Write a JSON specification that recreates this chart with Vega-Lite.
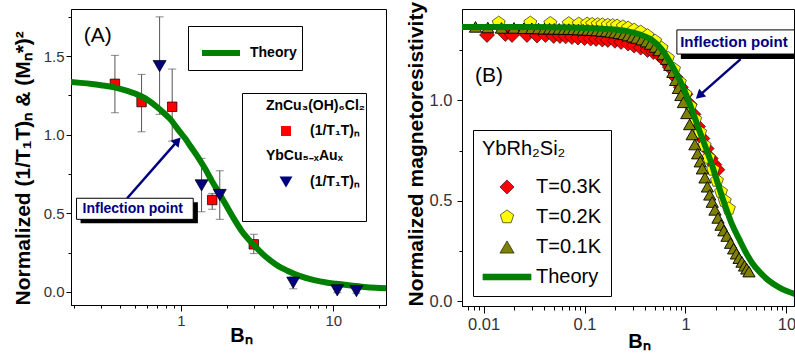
{
  "$schema": "https://vega.github.io/schema/vega-lite/v6.json",
  "background": "white",
  "padding": {"left": 11, "top": 0, "right": 0, "bottom": 0},
  "bounds": "flush",
  "spacing": 76,
  "resolve": {"scale": {"fill": "independent", "shape": "independent", "stroke": "independent", "x": "independent", "y": "independent"}, "legend": {"fill": "independent", "shape": "independent", "stroke": "independent"}},
  "config": {
    "font": "Liberation Sans",
    "view": {"stroke": "black", "strokeWidth": 1},
    "axis": {"domainColor": "black", "tickColor": "black", "labelColor": "#333333", "titleColor": "black", "grid": false, "labelFont": "Liberation Sans", "titleFont": "Liberation Sans", "titleFontWeight": "bold", "labelOverlap": false, "labelFlush": false},
    "legend": {"labelFont": "Liberation Sans", "titleFont": "Liberation Sans", "labelColor": "black", "titleColor": "black", "cornerRadius": 0}
  },
  "datasets": {
    "leftPts": [
      {"B": 0.369, "v": 1.324, "lo": 1.14, "hi": 1.505, "s": "zn"},
      {"B": 0.552, "v": 1.208, "lo": 1.019, "hi": 1.384, "s": "zn"},
      {"B": 0.877, "v": 1.178, "lo": 0.96, "hi": 1.418, "s": "zn"},
      {"B": 1.606, "v": 0.585, "lo": 0.526, "hi": 0.627, "s": "zn"},
      {"B": 3.01, "v": 0.303, "lo": 0.244, "hi": 0.367, "s": "zn"},
      {"B": 0.725, "v": 1.437, "lo": 1.13, "hi": 1.75, "s": "yb"},
      {"B": 1.367, "v": 0.678, "lo": 0.51, "hi": 0.85, "s": "yb"},
      {"B": 1.8, "v": 0.617, "lo": 0.462, "hi": 0.771, "s": "yb"},
      {"B": 5.46, "v": 0.059, "lo": 0.02, "hi": 0.095, "s": "yb"},
      {"B": 10.63, "v": 0.01, "lo": -0.005, "hi": 0.045, "s": "yb"},
      {"B": 14.2, "v": 0.005, "lo": -0.008, "hi": 0.04, "s": "yb"}
    ],
    "leftCurve": [
      {"B": 0.19, "v": 1.335}, {"B": 0.22, "v": 1.33}, {"B": 0.26, "v": 1.323}, {"B": 0.3, "v": 1.315},
      {"B": 0.35, "v": 1.305}, {"B": 0.4, "v": 1.292}, {"B": 0.45, "v": 1.278}, {"B": 0.5, "v": 1.262},
      {"B": 0.55, "v": 1.245}, {"B": 0.62, "v": 1.215}, {"B": 0.7, "v": 1.175}, {"B": 0.78, "v": 1.135},
      {"B": 0.86, "v": 1.095}, {"B": 0.93, "v": 1.05}, {"B": 1.0, "v": 1.01}, {"B": 1.08, "v": 0.97},
      {"B": 1.15, "v": 0.93}, {"B": 1.3, "v": 0.855}, {"B": 1.45, "v": 0.78}, {"B": 1.6, "v": 0.705},
      {"B": 1.78, "v": 0.63}, {"B": 2.0, "v": 0.545}, {"B": 2.2, "v": 0.475}, {"B": 2.5, "v": 0.39},
      {"B": 2.75, "v": 0.34}, {"B": 3.0, "v": 0.3}, {"B": 3.5, "v": 0.235}, {"B": 4.2, "v": 0.175},
      {"B": 5.0, "v": 0.135}, {"B": 6.0, "v": 0.102}, {"B": 7.5, "v": 0.075}, {"B": 9.0, "v": 0.06},
      {"B": 10.5, "v": 0.052}, {"B": 13, "v": 0.041}, {"B": 16, "v": 0.032}, {"B": 19, "v": 0.027},
      {"B": 22.2, "v": 0.024}
    ],
    "rightCurve": [
      {"B": 0.0061, "v": 1.365}, {"B": 0.01, "v": 1.365}, {"B": 0.03, "v": 1.364}, {"B": 0.1, "v": 1.36},
      {"B": 0.18, "v": 1.353}, {"B": 0.255, "v": 1.345}, {"B": 0.35, "v": 1.328}, {"B": 0.464, "v": 1.3},
      {"B": 0.57, "v": 1.258}, {"B": 0.684, "v": 1.2}, {"B": 0.8, "v": 1.14}, {"B": 0.927, "v": 1.075},
      {"B": 1.05, "v": 1.01}, {"B": 1.165, "v": 0.95}, {"B": 1.36, "v": 0.855}, {"B": 1.6, "v": 0.76},
      {"B": 1.84, "v": 0.675}, {"B": 2.05, "v": 0.6}, {"B": 2.31, "v": 0.52}, {"B": 2.6, "v": 0.445},
      {"B": 2.91, "v": 0.38}, {"B": 3.4, "v": 0.31}, {"B": 3.95, "v": 0.245}, {"B": 4.6, "v": 0.19},
      {"B": 5.35, "v": 0.15}, {"B": 6.5, "v": 0.108}, {"B": 8.45, "v": 0.07}, {"B": 10.2, "v": 0.05},
      {"B": 11.9, "v": 0.038}
    ],
    "rightPts": [
      {"B": 0.0108, "v": 1.325, "T": "T=0.3K"}, {"B": 0.0164, "v": 1.33, "T": "T=0.3K"}, {"B": 0.0191, "v": 1.325, "T": "T=0.3K"},
      {"B": 0.0269, "v": 1.325, "T": "T=0.3K"}, {"B": 0.0338, "v": 1.322, "T": "T=0.3K"}, {"B": 0.041, "v": 1.325, "T": "T=0.3K"},
      {"B": 0.0494, "v": 1.32, "T": "T=0.3K"}, {"B": 0.057, "v": 1.32, "T": "T=0.3K"}, {"B": 0.065, "v": 1.318, "T": "T=0.3K"},
      {"B": 0.075, "v": 1.315, "T": "T=0.3K"}, {"B": 0.086, "v": 1.312, "T": "T=0.3K"}, {"B": 0.1, "v": 1.31, "T": "T=0.3K"},
      {"B": 0.115, "v": 1.307, "T": "T=0.3K"}, {"B": 0.13, "v": 1.305, "T": "T=0.3K"}, {"B": 0.15, "v": 1.302, "T": "T=0.3K"},
      {"B": 0.17, "v": 1.3, "T": "T=0.3K"}, {"B": 0.2, "v": 1.296, "T": "T=0.3K"}, {"B": 0.23, "v": 1.29, "T": "T=0.3K"},
      {"B": 0.27, "v": 1.282, "T": "T=0.3K"}, {"B": 0.31, "v": 1.272, "T": "T=0.3K"}, {"B": 0.36, "v": 1.262, "T": "T=0.3K"},
      {"B": 0.42, "v": 1.25, "T": "T=0.3K"}, {"B": 0.48, "v": 1.24, "T": "T=0.3K"}, {"B": 0.55, "v": 1.225, "T": "T=0.3K"},
      {"B": 0.62, "v": 1.2, "T": "T=0.3K"}, {"B": 0.7, "v": 1.165, "T": "T=0.3K"}, {"B": 0.8, "v": 1.115, "T": "T=0.3K"},
      {"B": 0.9, "v": 1.065, "T": "T=0.3K"}, {"B": 1.0, "v": 1.03, "T": "T=0.3K"}, {"B": 1.1, "v": 0.98, "T": "T=0.3K"},
      {"B": 1.2, "v": 0.93, "T": "T=0.3K"}, {"B": 1.33, "v": 0.87, "T": "T=0.3K"}, {"B": 1.47, "v": 0.81, "T": "T=0.3K"},
      {"B": 1.62, "v": 0.76, "T": "T=0.3K"}, {"B": 1.78, "v": 0.71, "T": "T=0.3K"}, {"B": 1.93, "v": 0.68, "T": "T=0.3K"},
      {"B": 2.07, "v": 0.655, "T": "T=0.3K"},
      {"B": 0.0141, "v": 1.385, "T": "T=0.2K"}, {"B": 0.029, "v": 1.385, "T": "T=0.2K"}, {"B": 0.0458, "v": 1.383, "T": "T=0.2K"},
      {"B": 0.0697, "v": 1.382, "T": "T=0.2K"}, {"B": 0.0876, "v": 1.38, "T": "T=0.2K"}, {"B": 0.106, "v": 1.38, "T": "T=0.2K"},
      {"B": 0.119, "v": 1.378, "T": "T=0.2K"}, {"B": 0.135, "v": 1.377, "T": "T=0.2K"}, {"B": 0.15, "v": 1.376, "T": "T=0.2K"},
      {"B": 0.17, "v": 1.374, "T": "T=0.2K"}, {"B": 0.19, "v": 1.372, "T": "T=0.2K"}, {"B": 0.21, "v": 1.37, "T": "T=0.2K"},
      {"B": 0.24, "v": 1.366, "T": "T=0.2K"}, {"B": 0.27, "v": 1.36, "T": "T=0.2K"}, {"B": 0.31, "v": 1.35, "T": "T=0.2K"},
      {"B": 0.36, "v": 1.34, "T": "T=0.2K"}, {"B": 0.42, "v": 1.322, "T": "T=0.2K"}, {"B": 0.5, "v": 1.295, "T": "T=0.2K"},
      {"B": 0.58, "v": 1.26, "T": "T=0.2K"}, {"B": 0.67, "v": 1.21, "T": "T=0.2K"}, {"B": 0.77, "v": 1.155, "T": "T=0.2K"},
      {"B": 0.88, "v": 1.09, "T": "T=0.2K"}, {"B": 1.0, "v": 1.03, "T": "T=0.2K"}, {"B": 1.12, "v": 0.97, "T": "T=0.2K"},
      {"B": 1.25, "v": 0.905, "T": "T=0.2K"}, {"B": 1.4, "v": 0.84, "T": "T=0.2K"}, {"B": 1.55, "v": 0.775, "T": "T=0.2K"},
      {"B": 1.7, "v": 0.715, "T": "T=0.2K"}, {"B": 1.88, "v": 0.655, "T": "T=0.2K"}, {"B": 2.05, "v": 0.6, "T": "T=0.2K"},
      {"B": 2.25, "v": 0.545, "T": "T=0.2K"}, {"B": 2.45, "v": 0.5, "T": "T=0.2K"}, {"B": 2.69, "v": 0.461, "T": "T=0.2K"},
      {"B": 0.0083, "v": 1.365, "T": "T=0.1K"}, {"B": 0.011, "v": 1.362, "T": "T=0.1K"}, {"B": 0.015, "v": 1.36, "T": "T=0.1K"},
      {"B": 0.02, "v": 1.36, "T": "T=0.1K"}, {"B": 0.025, "v": 1.358, "T": "T=0.1K"}, {"B": 0.03, "v": 1.358, "T": "T=0.1K"},
      {"B": 0.035, "v": 1.357, "T": "T=0.1K"}, {"B": 0.04, "v": 1.356, "T": "T=0.1K"}, {"B": 0.045, "v": 1.356, "T": "T=0.1K"},
      {"B": 0.05, "v": 1.355, "T": "T=0.1K"}, {"B": 0.056, "v": 1.355, "T": "T=0.1K"}, {"B": 0.063, "v": 1.354, "T": "T=0.1K"},
      {"B": 0.07, "v": 1.354, "T": "T=0.1K"}, {"B": 0.078, "v": 1.353, "T": "T=0.1K"}, {"B": 0.087, "v": 1.352, "T": "T=0.1K"},
      {"B": 0.097, "v": 1.351, "T": "T=0.1K"}, {"B": 0.108, "v": 1.35, "T": "T=0.1K"}, {"B": 0.12, "v": 1.349, "T": "T=0.1K"},
      {"B": 0.133, "v": 1.347, "T": "T=0.1K"}, {"B": 0.148, "v": 1.345, "T": "T=0.1K"}, {"B": 0.165, "v": 1.343, "T": "T=0.1K"},
      {"B": 0.183, "v": 1.34, "T": "T=0.1K"}, {"B": 0.2, "v": 1.337, "T": "T=0.1K"}, {"B": 0.22, "v": 1.333, "T": "T=0.1K"},
      {"B": 0.245, "v": 1.328, "T": "T=0.1K"}, {"B": 0.27, "v": 1.322, "T": "T=0.1K"}, {"B": 0.3, "v": 1.316, "T": "T=0.1K"},
      {"B": 0.33, "v": 1.31, "T": "T=0.1K"}, {"B": 0.37, "v": 1.302, "T": "T=0.1K"}, {"B": 0.41, "v": 1.292, "T": "T=0.1K"},
      {"B": 0.45, "v": 1.28, "T": "T=0.1K"}, {"B": 0.5, "v": 1.265, "T": "T=0.1K"}, {"B": 0.55, "v": 1.248, "T": "T=0.1K"},
      {"B": 0.6, "v": 1.228, "T": "T=0.1K"}, {"B": 0.65, "v": 1.205, "T": "T=0.1K"}, {"B": 0.7, "v": 1.175, "T": "T=0.1K"},
      {"B": 0.75, "v": 1.14, "T": "T=0.1K"}, {"B": 0.8, "v": 1.1, "T": "T=0.1K"}, {"B": 0.85, "v": 1.06, "T": "T=0.1K"},
      {"B": 0.9, "v": 1.025, "T": "T=0.1K"}, {"B": 0.955, "v": 0.99, "T": "T=0.1K"}, {"B": 1.03, "v": 0.935, "T": "T=0.1K"},
      {"B": 1.1, "v": 0.88, "T": "T=0.1K"}, {"B": 1.165, "v": 0.83, "T": "T=0.1K"}, {"B": 1.24, "v": 0.78, "T": "T=0.1K"},
      {"B": 1.32, "v": 0.735, "T": "T=0.1K"}, {"B": 1.4, "v": 0.695, "T": "T=0.1K"}, {"B": 1.47, "v": 0.66, "T": "T=0.1K"},
      {"B": 1.56, "v": 0.615, "T": "T=0.1K"}, {"B": 1.65, "v": 0.57, "T": "T=0.1K"}, {"B": 1.74, "v": 0.53, "T": "T=0.1K"},
      {"B": 1.84, "v": 0.494, "T": "T=0.1K"}, {"B": 1.96, "v": 0.455, "T": "T=0.1K"}, {"B": 2.1, "v": 0.415, "T": "T=0.1K"},
      {"B": 2.25, "v": 0.38, "T": "T=0.1K"}, {"B": 2.4, "v": 0.352, "T": "T=0.1K"}, {"B": 2.58, "v": 0.325, "T": "T=0.1K"},
      {"B": 2.8, "v": 0.29, "T": "T=0.1K"}, {"B": 3.0, "v": 0.262, "T": "T=0.1K"}, {"B": 3.2, "v": 0.237, "T": "T=0.1K"},
      {"B": 3.4, "v": 0.215, "T": "T=0.1K"}, {"B": 3.63, "v": 0.196, "T": "T=0.1K"}, {"B": 3.85, "v": 0.177, "T": "T=0.1K"},
      {"B": 4.05, "v": 0.162, "T": "T=0.1K"}, {"B": 4.26, "v": 0.148, "T": "T=0.1K"}
    ]
  },
  "hconcat": [
    {
      "width": 315,
      "height": 296,
      "layer": [
        {
          "data": {"name": "leftPts"},
          "mark": {"type": "rule", "color": "#555555", "strokeWidth": 1},
          "encoding": {
            "x": {"field": "B", "type": "quantitative", "scale": {"type": "log", "domain": [0.19, 22.2], "nice": false},
              "axis": {"title": "Bₙ", "titleFontSize": 20, "titleX": 170, "titleY": 36, "titleBaseline": "alphabetic",
                "values": [0.2, 0.3, 0.4, 0.5, 0.6, 0.7, 0.8, 0.9, 1, 2, 3, 4, 5, 6, 7, 8, 9, 10, 20],
                "format": "~g", "labelExpr": "(datum.value == 1 || datum.value == 10) ? datum.label : ''",
                "labelFontSize": 15, "labelPadding": 2,
                "tickSize": {"condition": {"test": "datum.value == 1 || datum.value == 10", "value": 6}, "value": 3}}},
            "y": {"field": "lo", "type": "quantitative", "scale": {"domain": [-0.083, 1.8], "nice": false, "zero": false},
              "axis": {"title": "Normalized (1/T₁T)ₙ & (Mₙ*)²", "titleFontSize": 21, "titleAnchor": "start", "titlePadding": 10,
                "values": [0, 0.25, 0.5, 0.75, 1, 1.25, 1.5, 1.75],
                "labelExpr": "datum.value % 0.5 == 0 ? format(datum.value, '.1f') : ''",
                "labelFontSize": 15, "labelPadding": 2,
                "tickSize": {"condition": {"test": "datum.value % 0.5 == 0", "value": 5}, "value": 3}}},
            "y2": {"field": "hi"}
          }
        },
        {
          "data": {"name": "leftPts"},
          "mark": {"type": "tick", "orient": "horizontal", "size": 8, "thickness": 1, "color": "#555555"},
          "encoding": {
            "x": {"field": "B", "type": "quantitative"},
            "y": {"field": "lo", "type": "quantitative"}
          }
        },
        {
          "data": {"name": "leftPts"},
          "mark": {"type": "tick", "orient": "horizontal", "size": 8, "thickness": 1, "color": "#555555"},
          "encoding": {
            "x": {"field": "B", "type": "quantitative"},
            "y": {"field": "hi", "type": "quantitative"}
          }
        },
        {
          "data": {"name": "leftPts"},
          "transform": [{"filter": "datum.s == 'zn'"}],
          "mark": {"type": "point", "filled": true, "stroke": "black", "strokeWidth": 0.7, "size": 90, "opacity": 1},
          "encoding": {
            "x": {"field": "B", "type": "quantitative"},
            "y": {"field": "v", "type": "quantitative"},
            "fill": {"field": "s", "type": "nominal",
              "scale": {"domain": ["g1", "zn", "g2", "yb", "z"], "range": ["white", "#ff0000", "white", "#000080", "white"]},
              "legend": {"title": null, "orient": "none", "legendX": 171, "legendY": 84, "strokeColor": "black", "padding": 6,
                "symbolOffset": 31, "labelOffset": 17, "rowPadding": 11, "labelFontWeight": "bold", "labelFontSize": 14, "symbolSize": 100,
                "symbolStrokeColor": "black", "symbolStrokeWidth": 0.8,
                "labelExpr": "(datum.value == 'zn' || datum.value == 'yb') ? '(1/T₁T)ₙ' : (datum.value == 'z' ? '' : '                 ')"}},
            "shape": {"field": "s", "type": "nominal",
              "scale": {"domain": ["g1", "zn", "g2", "yb", "z"], "range": ["M0,0", "square", "M0,0", "M-1.3,-1.12L1.3,-1.12L0,1.12Z", "M0,0"]},
              "legend": {"title": null, "orient": "none", "legendX": 171, "legendY": 84, "strokeColor": "black", "padding": 6,
                "symbolOffset": 31, "labelOffset": 17, "rowPadding": 11, "labelFontWeight": "bold", "labelFontSize": 14, "symbolSize": 100,
                "symbolStrokeColor": "black", "symbolStrokeWidth": 0.8,
                "labelExpr": "(datum.value == 'zn' || datum.value == 'yb') ? '(1/T₁T)ₙ' : (datum.value == 'z' ? '' : '                 ')"}}
          }
        },
        {
          "data": {"name": "leftCurve"},
          "mark": {"type": "line", "strokeWidth": 6, "interpolate": "monotone", "clip": true, "strokeCap": "round"},
          "encoding": {
            "x": {"field": "B", "type": "quantitative"},
            "y": {"field": "v", "type": "quantitative"},
            "stroke": {"datum": "Theory", "type": "nominal", "scale": {"domain": ["Theory"], "range": ["#008000"]},
              "legend": {"title": null, "orient": "none", "legendX": 117, "legendY": 17, "strokeColor": "black", "fillColor": "white", "padding": 5,
                "symbolOffset": 6, "labelOffset": 7, "symbolSize": 1444, "symbolStrokeWidth": 6, "symbolType": "stroke",
                "labelFontWeight": "bold", "labelFontSize": 14}}
          }
        },
        {
          "data": {"name": "leftPts"},
          "transform": [{"filter": "datum.s == 'yb'"}],
          "mark": {"type": "point", "filled": true, "stroke": "black", "strokeWidth": 0.7, "size": 100, "opacity": 1},
          "encoding": {
            "x": {"field": "B", "type": "quantitative"},
            "y": {"field": "v", "type": "quantitative"},
            "fill": {"field": "s", "type": "nominal"},
            "shape": {"field": "s", "type": "nominal"}
          }
        },
        {
          "data": {"values": [{"B": 3.614, "v": 1.182, "t": "ZnCu₃(OH)₆Cl₂"}, {"B": 3.614, "v": 0.865, "t": "YbCu₅₋ₓAuₓ"}]},
          "mark": {"type": "text", "align": "left", "baseline": "middle", "fontSize": 14, "fontWeight": "bold", "color": "black"},
          "encoding": {
            "x": {"field": "B", "type": "quantitative"},
            "y": {"field": "v", "type": "quantitative"},
            "text": {"field": "t"}
          }
        },
        {
          "data": {"values": [{"B": 0.2195, "B2": 1.293, "v": 0.57, "v2": 0.437}]},
          "mark": {"type": "rect", "fill": "black"},
          "encoding": {
            "x": {"field": "B", "type": "quantitative"}, "x2": {"field": "B2"},
            "y": {"field": "v", "type": "quantitative"}, "y2": {"field": "v2"}
          }
        },
        {
          "data": {"values": [{"B": 0.444, "v": 0.596, "B2": 0.951, "v2": 0.961}]},
          "mark": {"type": "rule", "color": "#000080", "strokeWidth": 2.5},
          "encoding": {
            "x": {"field": "B", "type": "quantitative"}, "x2": {"field": "B2"},
            "y": {"field": "v", "type": "quantitative"}, "y2": {"field": "v2"}
          }
        },
        {
          "data": {"values": [{"B": 0.2066, "B2": 1.205, "v": 0.596, "v2": 0.462}]},
          "mark": {"type": "rect", "fill": "white", "stroke": "black", "strokeWidth": 1},
          "encoding": {
            "x": {"field": "B", "type": "quantitative"}, "x2": {"field": "B2"},
            "y": {"field": "v", "type": "quantitative"}, "y2": {"field": "v2"}
          }
        },
        {
          "data": {"values": [{"B": 0.951, "v": 0.961}]},
          "mark": {"type": "point", "shape": "triangle-up", "angle": 41, "size": 110, "filled": true, "fill": "#000080", "strokeWidth": 0, "opacity": 1},
          "encoding": {
            "x": {"field": "B", "type": "quantitative"},
            "y": {"field": "v", "type": "quantitative"}
          }
        },
        {
          "data": {"values": [{"B": 0.4827, "v": 0.526, "t": "Inflection point"}]},
          "mark": {"type": "text", "align": "center", "baseline": "middle", "fontSize": 14, "fontWeight": "bold", "color": "#000080"},
          "encoding": {
            "x": {"field": "B", "type": "quantitative"},
            "y": {"field": "v", "type": "quantitative"},
            "text": {"field": "t"}
          }
        },
        {
          "data": {"values": [{"B": 0.285, "v": 1.627, "t": "(A)"}]},
          "mark": {"type": "text", "align": "center", "baseline": "middle", "fontSize": 21, "fontWeight": "normal", "color": "black"},
          "encoding": {
            "x": {"field": "B", "type": "quantitative"},
            "y": {"field": "v", "type": "quantitative"},
            "text": {"field": "t"}
          }
        }
      ]
    },
    {
      "width": 332,
      "height": 297,
      "layer": [
        {
          "data": {"name": "rightPts"},
          "transform": [{"filter": "datum.T == 'T=0.3K'"}],
          "mark": {"type": "point", "filled": true, "strokeWidth": 0.6, "size": 225, "opacity": 1},
          "encoding": {
            "x": {"field": "B", "type": "quantitative", "scale": {"type": "log", "domain": [0.0061, 11.9], "nice": false},
              "axis": {"title": "Bₙ", "titleFontSize": 20, "titleX": 177, "titleY": 41, "titleBaseline": "alphabetic",
                "values": [0.007, 0.008, 0.009, 0.01, 0.02, 0.03, 0.04, 0.05, 0.06, 0.07, 0.08, 0.09, 0.1, 0.2, 0.3, 0.4, 0.5, 0.6, 0.7, 0.8, 0.9, 1, 2, 3, 4, 5, 6, 7, 8, 9, 10],
                "format": "~g", "labelExpr": "(datum.value == 0.01 || datum.value == 0.1 || datum.value == 1 || datum.value == 10) ? datum.label : ''",
                "labelFontSize": 16.5, "labelPadding": 3,
                "tickSize": {"condition": {"test": "datum.value == 0.01 || datum.value == 0.1 || datum.value == 1 || datum.value == 10", "value": 7}, "value": 4}}},
            "y": {"field": "v", "type": "quantitative", "scale": {"domain": [-0.023, 1.454], "nice": false, "zero": false},
              "axis": {"title": "Normalized magnetoresistivity", "titleFontSize": 21, "titleAnchor": "start", "titlePadding": 3,
                "values": [0, 0.25, 0.5, 0.75, 1, 1.25],
                "labelExpr": "datum.value % 0.5 == 0 ? format(datum.value, '.1f') : ''",
                "labelFontSize": 16.5, "labelPadding": 5,
                "tickSize": {"condition": {"test": "datum.value % 0.5 == 0", "value": 5}, "value": 3}}},
            "fill": {"field": "T", "type": "nominal",
              "scale": {"domain": ["T=0.3K", "T=0.2K", "T=0.1K", "Theory"], "range": ["#ff0000", "#ffff00", "#808000", "#008000"]},
              "legend": {"title": "YbRh₂Si₂", "orient": "none", "legendX": 11, "legendY": 121, "strokeColor": "black", "fillColor": "white", "padding": 9,
                "titleFontSize": 20, "titleFontWeight": "normal", "titlePadding": 18, "labelFontSize": 20, "symbolOffset": 15, "labelOffset": 19,
                "rowPadding": 10, "symbolSize": 200, "symbolStrokeWidth": 0.6}},
            "shape": {"field": "T", "type": "nominal",
              "scale": {"domain": ["T=0.3K", "T=0.2K", "T=0.1K", "Theory"], "range": ["diamond", "M0,-1L0.951,-0.309L0.588,0.809L-0.588,0.809L-0.951,-0.309Z", "triangle-up", "M-3.4,-0.42H3.4V0.42H-3.4Z"]},
              "legend": {"title": "YbRh₂Si₂", "orient": "none", "legendX": 11, "legendY": 121, "strokeColor": "black", "fillColor": "white", "padding": 9,
                "titleFontSize": 20, "titleFontWeight": "normal", "titlePadding": 18, "labelFontSize": 20, "symbolOffset": 15, "labelOffset": 19,
                "rowPadding": 10, "symbolSize": 200, "symbolStrokeWidth": 0.6}},
            "stroke": {"field": "T", "type": "nominal",
              "scale": {"domain": ["T=0.3K", "T=0.2K", "T=0.1K", "Theory"], "range": ["#000000", "#000000", "#000000", "#008000"]},
              "legend": {"title": "YbRh₂Si₂", "orient": "none", "legendX": 11, "legendY": 121, "strokeColor": "black", "fillColor": "white", "padding": 9,
                "titleFontSize": 20, "titleFontWeight": "normal", "titlePadding": 18, "labelFontSize": 20, "symbolOffset": 15, "labelOffset": 19,
                "rowPadding": 10, "symbolSize": 200, "symbolStrokeWidth": 0.6}}
          }
        },
        {
          "data": {"name": "rightPts"},
          "transform": [{"filter": "datum.T == 'T=0.2K'"}],
          "mark": {"type": "point", "filled": true, "strokeWidth": 0.6, "size": 185, "opacity": 1},
          "encoding": {
            "x": {"field": "B", "type": "quantitative"},
            "y": {"field": "v", "type": "quantitative"},
            "fill": {"field": "T", "type": "nominal"},
            "shape": {"field": "T", "type": "nominal"},
            "stroke": {"field": "T", "type": "nominal"}
          }
        },
        {
          "data": {"name": "rightPts"},
          "transform": [{"filter": "datum.T == 'T=0.1K'"}],
          "mark": {"type": "point", "filled": true, "strokeWidth": 0.9, "size": 150, "opacity": 1},
          "encoding": {
            "x": {"field": "B", "type": "quantitative"},
            "y": {"field": "v", "type": "quantitative"},
            "fill": {"field": "T", "type": "nominal"},
            "shape": {"field": "T", "type": "nominal"},
            "stroke": {"field": "T", "type": "nominal"}
          }
        },
        {
          "data": {"name": "rightCurve"},
          "mark": {"type": "line", "strokeWidth": 6, "interpolate": "monotone", "clip": true, "stroke": "#008000", "strokeCap": "round"},
          "encoding": {
            "x": {"field": "B", "type": "quantitative"},
            "y": {"field": "v", "type": "quantitative"}
          }
        },
        {
          "data": {"values": [{"B": 0.9, "B2": 20, "v": 1.33, "v2": 1.205}]},
          "mark": {"type": "rect", "fill": "black", "clip": true},
          "encoding": {
            "x": {"field": "B", "type": "quantitative"}, "x2": {"field": "B2"},
            "y": {"field": "v", "type": "quantitative"}, "y2": {"field": "v2"}
          }
        },
        {
          "data": {"values": [{"B": 0.822, "B2": 20, "v": 1.35, "v2": 1.23}]},
          "mark": {"type": "rect", "fill": "white", "stroke": "black", "strokeWidth": 1, "clip": true},
          "encoding": {
            "x": {"field": "B", "type": "quantitative"}, "x2": {"field": "B2"},
            "y": {"field": "v", "type": "quantitative"}, "y2": {"field": "v2"}
          }
        },
        {
          "data": {"values": [{"B": 3.52, "v": 1.205, "B2": 1.37, "v2": 1.023}]},
          "mark": {"type": "rule", "color": "#000080", "strokeWidth": 2.5},
          "encoding": {
            "x": {"field": "B", "type": "quantitative"}, "x2": {"field": "B2"},
            "y": {"field": "v", "type": "quantitative"}, "y2": {"field": "v2"}
          }
        },
        {
          "data": {"values": [{"B": 1.37, "v": 1.023}]},
          "mark": {"type": "point", "shape": "triangle-up", "angle": 228, "size": 110, "filled": true, "fill": "#000080", "strokeWidth": 0, "opacity": 1},
          "encoding": {
            "x": {"field": "B", "type": "quantitative"},
            "y": {"field": "v", "type": "quantitative"}
          }
        },
        {
          "data": {"values": [{"B": 3.02, "v": 1.29, "t": "Inflection point"}]},
          "mark": {"type": "text", "align": "center", "baseline": "middle", "fontSize": 15, "fontWeight": "bold", "color": "#000080"},
          "encoding": {
            "x": {"field": "B", "type": "quantitative"},
            "y": {"field": "v", "type": "quantitative"},
            "text": {"field": "t"}
          }
        },
        {
          "data": {"values": [{"B": 0.0113, "v": 1.121, "t": "(B)"}]},
          "mark": {"type": "text", "align": "center", "baseline": "middle", "fontSize": 21, "fontWeight": "normal", "color": "black"},
          "encoding": {
            "x": {"field": "B", "type": "quantitative"},
            "y": {"field": "v", "type": "quantitative"},
            "text": {"field": "t"}
          }
        }
      ]
    }
  ]
}
